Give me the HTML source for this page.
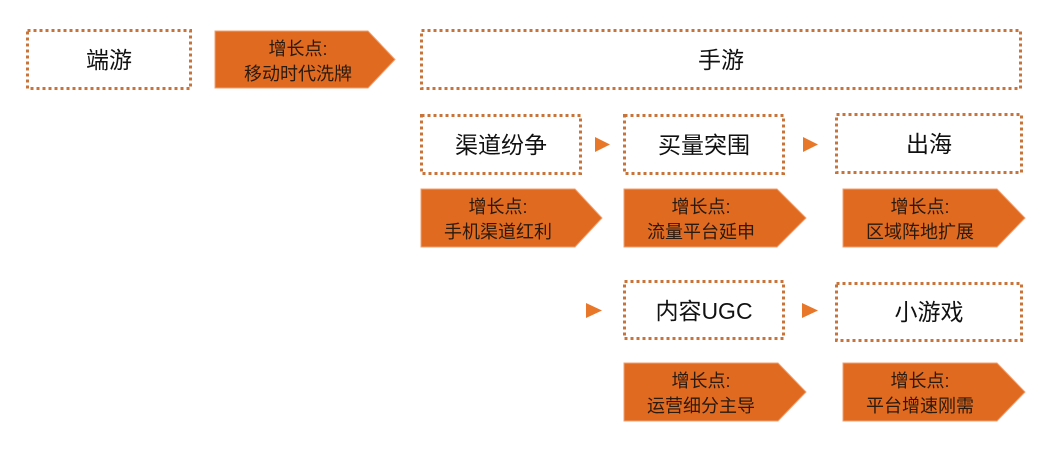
<!DOCTYPE html>
<html><head><meta charset="utf-8"><style>
html,body{margin:0;padding:0;background:#fff;}
svg text{font-family:"Liberation Sans","Noto Sans CJK SC",sans-serif;}
</style></head><body>
<svg width="1059" height="448" viewBox="0 0 1059 448" xmlns="http://www.w3.org/2000/svg">
<g fill="none" stroke="#C8733A" stroke-width="3" stroke-dasharray="3 3">
<rect x="27.5" y="30.5" width="163" height="58"/>
<rect x="421.5" y="30.5" width="599" height="58"/>
<rect x="421.5" y="115.5" width="159" height="58"/>
<rect x="624.5" y="115.5" width="159" height="58"/>
<rect x="836.5" y="114.5" width="185" height="58"/>
<rect x="624.5" y="281.5" width="159" height="57"/>
<rect x="836.5" y="283.5" width="185" height="57"/>
</g>
<g fill="#E06A20" stroke="#F0A070" stroke-width="1">
<polygon points="215,31 368,31 395,59.5 368,88 215,88"/>
<polygon points="421,189 575,189 602,218 575,247 421,247"/>
<polygon points="624,189 777,189 806,218 777,247 624,247"/>
<polygon points="843,189 997,189 1025,218 997,247 843,247"/>
<polygon points="624,363 778,363 806,392 778,421 624,421"/>
<polygon points="843,363 997,363 1025,392 997,421 843,421"/>
</g>
<g fill="#E8772A">
<polygon points="595,137 610,144.5 595,152"/>
<polygon points="803,137 818,144.5 803,152"/>
<polygon points="586,303 602,310.5 586,318"/>
<polygon points="802,303 818,310.5 802,318"/>
</g>
<g fill="#111" font-size="23" text-anchor="middle">
<text x="109" y="68">端游</text>
<text x="721" y="68">手游</text>
<text x="501" y="153">渠道纷争</text>
<text x="704" y="153">买量突围</text>
<text x="929" y="152">出海</text>
<text x="704" y="319">内容UGC</text>
<text x="929" y="320">小游戏</text>
</g>
<g fill="#2a1a10" font-size="18" text-anchor="middle">
<text x="298" y="55">增长点:</text><text x="298" y="80">移动时代洗牌</text>
<text x="498" y="213">增长点:</text><text x="498" y="238">手机渠道红利</text>
<text x="701" y="213">增长点:</text><text x="701" y="238">流量平台延申</text>
<text x="920" y="213">增长点:</text><text x="920" y="238">区域阵地扩展</text>
<text x="701" y="387">增长点:</text><text x="701" y="412">运营细分主导</text>
<text x="920" y="387">增长点:</text><text x="920" y="412">平台增速刚需</text>
</g>
</svg>
</body></html>
